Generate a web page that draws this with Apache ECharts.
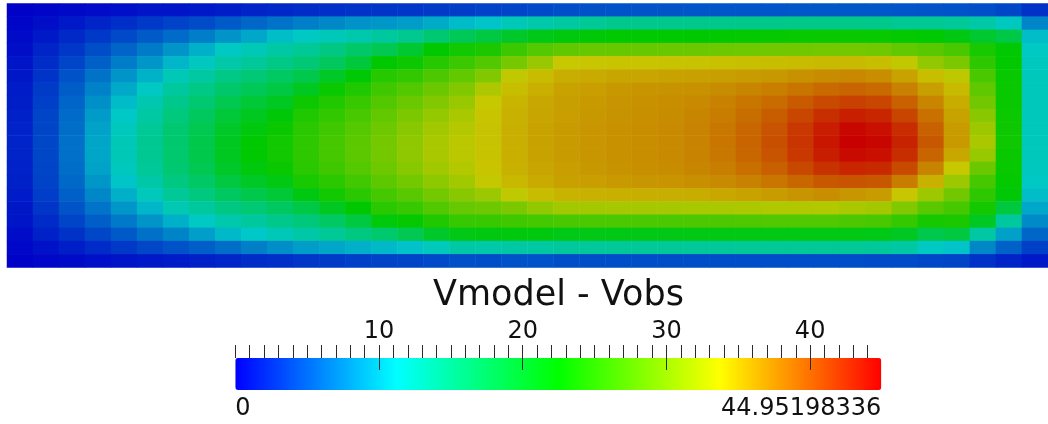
<!DOCTYPE html>
<html>
<head>
<meta charset="utf-8">
<script src="https://cdn.jsdelivr.net/npm/echarts@6/dist/echarts.min.js"></script>
<style>
  html, body { margin: 0; padding: 0; background: #fff; }
  #chart { width: 1048px; height: 424px; }
</style>
</head>
<body>
<div id="chart"></div>
<script>
// Scalar field name and colour-bar range
const titleText = 'Vmodel - Vobs';
const rangeMin = 0;
const rangeMax = 44.95198336;

// Colour-bar ticks and labels
const majorStep = 10;
const majorLast = 40;
const minorStep = 1;
const minorLast = 44;
const rangeLabels = [0, 44.95198336];

// Sampled field values, one list per row (top to bottom), 40 cells left to right
const fieldRows = [
  [0.1,0.3,0.5,0.7,0.9,1.1,1.2,1.4,1.7,2.0,2.2,2.5,2.7,2.9,3.0,3.1,3.3,3.5,3.7,3.9,4.1,4.4,4.5,4.6,4.7,4.7,4.8,4.8,4.8,4.8,4.9,4.9,4.9,4.9,4.8,4.7,4.6,4.4,4.0,2.8],
  [0.3,0.8,1.4,2.0,2.6,3.2,3.7,4.2,5.0,5.8,6.4,7.1,7.6,8.2,8.5,8.8,9.6,10.5,11.0,12.2,12.9,13.5,14.0,14.6,14.6,14.6,14.7,14.7,14.8,14.8,14.8,14.8,14.8,14.7,14.3,14.2,13.9,13.1,11.8,7.5],
  [0.6,1.4,2.3,3.2,4.1,5.1,6.0,7.1,8.3,9.4,10.6,11.6,12.1,12.8,13.6,14.4,16.1,17.6,18.9,20.1,21.2,21.8,22.1,22.4,22.4,22.4,22.5,22.6,22.7,22.8,22.9,23.0,23.0,22.9,22.7,22.4,21.5,19.9,18.5,10.6],
  [0.8,2.0,3.1,4.3,5.6,6.9,8.3,9.9,11.6,12.2,13.2,14.0,15.1,16.6,18.0,19.8,22.5,23.5,24.0,25.8,27.2,27.9,28.3,28.3,28.3,28.4,28.5,28.6,28.7,28.8,28.9,29.0,29.0,28.9,28.0,27.5,26.6,23.8,22.3,11.5],
  [1.1,2.5,3.9,5.4,7.0,8.5,10.2,11.7,13.0,13.8,14.9,15.8,17.2,19.1,22.5,23.2,24.6,25.8,27.0,29.1,31.1,33.7,33.8,33.9,33.9,34.0,34.0,34.1,34.2,34.3,34.4,34.5,34.5,34.3,33.3,30.6,29.4,25.0,22.6,11.8],
  [1.3,2.9,4.6,6.4,8.3,10.0,12.2,13.4,14.9,15.8,16.9,18.2,20.3,22.2,24.6,25.3,26.8,28.0,29.8,33.2,34.4,35.2,35.4,35.6,35.7,35.8,35.9,36.0,36.2,36.4,36.8,37.1,37.3,37.0,35.8,34.3,33.1,26.6,22.9,12.0],
  [1.5,3.3,5.2,7.3,9.5,11.6,13.6,15.0,16.5,17.6,18.7,20.7,23.0,24.3,26.0,27.0,28.5,29.7,32.2,34.3,35.1,35.8,36.1,36.4,36.6,36.7,36.8,37.1,37.5,37.8,38.4,39.0,39.3,39.0,37.7,36.0,34.5,27.8,23.0,12.0],
  [1.7,3.6,5.7,8.1,10.5,12.6,14.7,16.2,18.0,19.4,20.5,23.2,24.3,25.6,27.1,28.4,29.8,31.0,33.6,34.8,35.5,36.0,36.3,36.6,36.8,37.0,37.2,37.7,38.3,38.9,39.9,40.8,41.3,41.0,39.5,37.4,35.3,28.8,23.0,12.0],
  [1.8,3.8,6.0,8.7,11.3,13.4,15.5,17.2,19.3,20.8,22.0,24.2,25.3,26.5,28.0,29.4,30.8,32.0,33.9,35.0,35.7,36.1,36.4,36.7,36.9,37.1,37.4,38.0,38.8,39.7,41.0,42.3,43.2,42.8,41.1,38.6,35.8,30.2,23.1,12.0],
  [1.9,3.9,6.2,9.1,11.9,14.0,16.1,17.9,20.2,21.8,23.0,24.8,26.0,27.2,28.6,30.1,31.6,32.6,34.0,35.1,35.8,36.2,36.5,36.8,37.0,37.2,37.6,38.2,39.2,40.3,41.8,43.3,44.5,44.1,42.4,39.5,36.2,31.3,23.2,12.0],
  [2.0,4.0,6.3,9.3,12.2,14.3,16.4,18.3,20.7,22.4,23.5,25.0,26.4,27.6,29.0,30.5,32.0,33.0,34.0,35.1,35.8,36.2,36.5,36.8,37.0,37.2,37.6,38.3,39.3,40.5,42.0,43.7,44.9,44.6,43.0,40.0,36.3,32.0,23.3,12.0],
  [2.0,4.0,6.3,9.3,12.2,14.3,16.4,18.3,20.7,22.4,23.5,25.0,26.4,27.6,29.0,30.5,32.0,33.0,34.0,35.1,35.8,36.2,36.5,36.8,37.0,37.2,37.6,38.2,39.2,40.3,41.8,43.3,44.4,44.1,42.4,39.3,35.5,31.0,23.0,12.0],
  [1.9,3.9,6.2,9.1,11.9,14.0,16.1,17.9,20.2,21.8,23.0,24.8,26.0,27.2,28.6,30.1,31.6,32.6,33.9,35.0,35.7,36.1,36.4,36.7,36.9,37.1,37.4,37.9,38.7,39.6,40.9,42.2,42.9,42.6,40.8,37.6,33.7,28.5,22.9,11.8],
  [1.8,3.7,5.9,8.5,11.0,13.1,15.2,16.8,18.8,20.3,21.4,23.8,24.9,26.2,27.7,29.0,30.4,31.6,33.5,34.6,35.4,35.9,36.1,36.3,36.5,36.6,36.9,37.2,37.7,38.3,39.2,40.0,40.3,40.0,38.0,35.0,31.2,26.4,22.7,11.4],
  [1.6,3.4,5.4,7.6,9.9,12.0,14.0,15.4,17.1,18.3,19.4,21.6,23.5,24.8,26.4,27.5,29.0,30.2,31.2,33.2,34.4,34.9,35.0,35.1,35.2,35.2,35.3,35.5,35.8,36.2,36.6,37.0,36.5,36.2,33.8,31.3,28.8,25.0,22.1,10.6],
  [1.3,3.0,4.7,6.5,8.5,10.2,12.4,13.6,15.1,16.0,17.1,18.5,20.7,22.5,24.8,25.5,27.0,28.2,28.6,29.4,30.6,31.6,31.7,31.8,31.8,31.8,31.9,32.0,32.1,32.3,32.4,32.5,32.0,31.7,29.8,27.5,26.4,23.6,19.0,9.4],
  [1.1,2.4,3.8,5.3,6.8,8.3,9.9,11.4,12.8,13.6,14.7,15.6,16.9,18.8,21.9,22.8,24.3,25.5,25.6,26.0,26.3,26.6,26.7,26.7,26.7,26.7,26.8,26.8,26.9,27.0,27.0,27.0,26.8,26.6,25.4,23.7,24.0,20.5,13.6,7.8],
  [0.7,1.8,2.8,4.0,5.0,6.3,7.4,8.9,10.4,11.2,12.2,13.1,14.0,15.2,16.4,17.8,20.1,21.3,21.5,21.8,21.7,21.2,21.3,21.3,21.3,21.3,21.4,21.4,21.4,21.4,21.4,21.4,21.4,21.2,20.5,18.2,18.9,13.4,9.0,5.8],
  [0.4,1.0,1.7,2.4,3.2,4.0,4.6,5.3,6.2,7.1,8.0,8.8,9.3,9.9,10.4,10.9,12.0,13.1,13.0,13.2,13.4,13.7,13.8,13.9,13.9,13.9,13.9,13.9,14.0,14.0,14.0,14.0,14.0,13.8,13.2,11.5,11.0,7.6,5.5,3.6],
  [0.1,0.4,0.6,0.9,1.1,1.4,1.5,1.8,2.1,2.5,2.7,3.1,3.3,3.6,3.7,3.8,4.1,4.4,4.3,4.6,4.6,4.3,4.3,4.3,4.3,4.3,4.3,4.3,4.3,4.3,4.3,4.3,4.3,4.2,4.2,4.0,3.8,2.8,2.0,1.4]
];

// Heatmap cells: [column, row, value]
const cells = [];
fieldRows.forEach((row, r) => row.forEach((v, c) => cells.push([c, r, v])));
const colCats = fieldRows[0].map((_, i) => i);
const rowCats = fieldRows.map((_, i) => i);

// Rainbow map for the legend bar, and its lit (darker) version for the surface
const barColors = ['#0000ff', '#00ffff', '#00ff00', '#ffff00', '#ff0000'];
const surfaceColors = ['#0000c8', '#00c8c8', '#00c800', '#c8c800', '#c80000'];

const FONT = 'DejaVu Sans';
const TEXT = '#111';
const TICK = '#2a2a2a';

// Colour-bar geometry: the bar spans the full range; tick axes span up to their last tick
const barLeft = 235.3, barWidth = 646, barTop = 358, barHeight = 32;
const pxPerUnit = barWidth / (rangeMax - rangeMin);
const tickTop = 345;

const chart = echarts.init(document.getElementById('chart'), null, { renderer: 'canvas' });

chart.setOption({
  animation: false,
  backgroundColor: '#ffffff',
  title: {
    text: titleText,
    left: 558.5,
    top: 278,
    textAlign: 'center',
    padding: 0,
    textStyle: { fontFamily: FONT, fontSize: 35, fontWeight: 'normal', color: TEXT }
  },
  grid: [
    // field
    { left: 7, top: 3.5, width: 1041, height: 264 },
    // colour bar (range labels underneath)
    { left: barLeft, top: barTop, width: barWidth, height: barHeight },
    // minor ticks above the bar
    { left: barLeft, top: tickTop, width: (minorLast - rangeMin) * pxPerUnit, height: barTop - tickTop },
    // major ticks, crossing into the bar, with their labels
    { left: barLeft, top: tickTop, width: (majorLast - rangeMin) * pxPerUnit, height: 25 }
  ],
  xAxis: [
    { type: 'category', gridIndex: 0, data: colCats, show: false },
    {
      type: 'value', gridIndex: 1, position: 'bottom', min: rangeMin, max: rangeMax,
      axisLine: { show: false, onZero: false },
      splitLine: { show: false },
      axisTick: { show: false },
      axisLabel: {
        show: true, customValues: rangeLabels, margin: 7, fontFamily: FONT, fontSize: 24, color: TEXT,
        alignMinLabel: 'left', alignMaxLabel: 'right',
        formatter: (v) => String(v)
      }
    },
    {
      type: 'value', gridIndex: 2, position: 'top', min: rangeMin, max: minorLast, interval: minorStep, z: 10,
      axisLine: { show: false, onZero: false },
      splitLine: { show: false },
      axisLabel: { show: false },
      axisTick: { show: true, inside: true, length: barTop - tickTop, lineStyle: { color: TICK, width: 1 } }
    },
    {
      type: 'value', gridIndex: 3, position: 'top', min: rangeMin, max: majorLast, interval: majorStep, z: 10,
      axisLine: { show: false, onZero: false },
      splitLine: { show: false },
      axisTick: { show: true, inside: true, length: 25, lineStyle: { color: TICK, width: 1 } },
      axisLabel: {
        show: true, showMinLabel: false, margin: 1,
        fontFamily: FONT, fontSize: 24, color: TEXT
      }
    }
  ],
  yAxis: [
    { type: 'category', gridIndex: 0, data: rowCats, inverse: true, show: false },
    { type: 'value', gridIndex: 1, show: false },
    { type: 'value', gridIndex: 2, show: false },
    { type: 'value', gridIndex: 3, show: false }
  ],
  visualMap: [
    {
      type: 'continuous', show: false, seriesIndex: 0,
      min: rangeMin, max: rangeMax,
      inRange: { color: surfaceColors }
    },
    {
      type: 'continuous', seriesIndex: 1,
      min: rangeMin, max: rangeMax,
      orient: 'horizontal', left: barLeft, top: barTop,
      itemWidth: barHeight, itemHeight: barWidth,
      calculable: false, hoverLink: false, padding: 0,
      inRange: { color: barColors }
    }
  ],
  series: [
    {
      type: 'heatmap', xAxisIndex: 0, yAxisIndex: 0,
      data: cells, silent: true, progressive: 0,
      emphasis: { disabled: true }
    },
    { type: 'scatter', xAxisIndex: 1, yAxisIndex: 1, data: [], silent: true }
  ]
});
</script>
</body>
</html>
